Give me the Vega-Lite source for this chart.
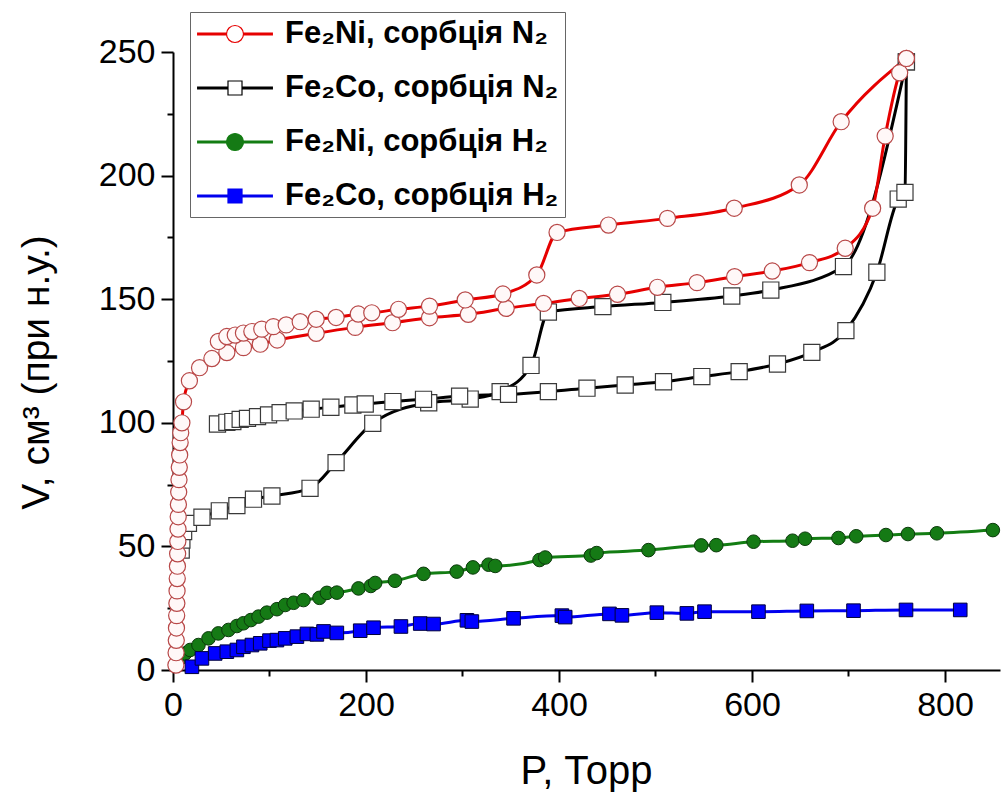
{
  "$schema": "https://vega.github.io/schema/vega-lite/v6.json",
  "width": 827,
  "height": 618,
  "autosize": {"type": "none"},
  "padding": {"left": 173, "top": 52, "right": 2, "bottom": 132},
  "background": "white",
  "config": {"view": {"stroke": null}},
  "data": {"values": [
    {"s":"Fe₂Ni, сорбція H₂","b":"a","P":2.3,"V":2},{"s":"Fe₂Ni, сорбція H₂","b":"a","P":7.5,"V":4.7},{"s":"Fe₂Ni, сорбція H₂","b":"a","P":12.6,"V":6.7},{"s":"Fe₂Ni, сорбція H₂","b":"a","P":17.8,"V":8.1},{"s":"Fe₂Ni, сорбція H₂","b":"a","P":26.4,"V":10.1},{"s":"Fe₂Ni, сорбція H₂","b":"a","P":36.8,"V":12.8},{"s":"Fe₂Ni, сорбція H₂","b":"a","P":47,"V":14.8},{"s":"Fe₂Ni, сорбція H₂","b":"a","P":57.5,"V":16.2},{"s":"Fe₂Ni, сорбція H₂","b":"a","P":66.2,"V":17.8},{"s":"Fe₂Ni, сорбція H₂","b":"a","P":73,"V":18.9},{"s":"Fe₂Ni, сорбція H₂","b":"a","P":80.7,"V":20.2},{"s":"Fe₂Ni, сорбція H₂","b":"a","P":88.6,"V":21.6},{"s":"Fe₂Ni, сорбція H₂","b":"a","P":97.3,"V":23.2},{"s":"Fe₂Ni, сорбція H₂","b":"a","P":107.7,"V":24.6},{"s":"Fe₂Ni, сорбція H₂","b":"a","P":116.3,"V":26.3},{"s":"Fe₂Ni, сорбція H₂","b":"a","P":125,"V":27.2},{"s":"Fe₂Ni, сорбція H₂","b":"a","P":135.2,"V":28.3},{"s":"Fe₂Ni, сорбція H₂","b":"a","P":151.8,"V":29.2},{"s":"Fe₂Ni, сорбція H₂","b":"a","P":159.5,"V":31.2},{"s":"Fe₂Ni, сорбція H₂","b":"a","P":169.8,"V":31.3},{"s":"Fe₂Ni, сорбція H₂","b":"a","P":192.2,"V":33},{"s":"Fe₂Ni, сорбція H₂","b":"a","P":205,"V":34},{"s":"Fe₂Ni, сорбція H₂","b":"a","P":209.5,"V":35.2},{"s":"Fe₂Ni, сорбція H₂","b":"a","P":230,"V":36.1},{"s":"Fe₂Ni, сорбція H₂","b":"a","P":259.6,"V":38.9},{"s":"Fe₂Ni, сорбція H₂","b":"a","P":294,"V":39.8},{"s":"Fe₂Ni, сорбція H₂","b":"a","P":310.8,"V":41.5},{"s":"Fe₂Ni, сорбція H₂","b":"a","P":327,"V":42.6},{"s":"Fe₂Ni, сорбція H₂","b":"a","P":333.9,"V":42.1},{"s":"Fe₂Ni, сорбція H₂","b":"a","P":379.8,"V":44.5},{"s":"Fe₂Ni, сорбція H₂","b":"a","P":385.7,"V":45.5},{"s":"Fe₂Ni, сорбція H₂","b":"a","P":433,"V":46.3},{"s":"Fe₂Ni, сорбція H₂","b":"a","P":439,"V":47.3},{"s":"Fe₂Ni, сорбція H₂","b":"a","P":492.7,"V":48.5},{"s":"Fe₂Ni, сорбція H₂","b":"a","P":547.4,"V":50.4},{"s":"Fe₂Ni, сорбція H₂","b":"a","P":563,"V":50.5},{"s":"Fe₂Ni, сорбція H₂","b":"a","P":601.6,"V":51.9},{"s":"Fe₂Ni, сорбція H₂","b":"a","P":642,"V":52.3},{"s":"Fe₂Ni, сорбція H₂","b":"a","P":655,"V":53.1},{"s":"Fe₂Ni, сорбція H₂","b":"a","P":689.6,"V":53.4},{"s":"Fe₂Ni, сорбція H₂","b":"a","P":708,"V":54.1},{"s":"Fe₂Ni, сорбція H₂","b":"a","P":738.8,"V":54.6},{"s":"Fe₂Ni, сорбція H₂","b":"a","P":761.6,"V":55},{"s":"Fe₂Ni, сорбція H₂","b":"a","P":791.6,"V":55.3},{"s":"Fe₂Ni, сорбція H₂","b":"a","P":849.6,"V":56.6},
    {"s":"Fe₂Co, сорбція H₂","b":"a","P":19.6,"V":1.3},{"s":"Fe₂Co, сорбція H₂","b":"a","P":30,"V":4.7},{"s":"Fe₂Co, сорбція H₂","b":"a","P":43.7,"V":6.7},{"s":"Fe₂Co, сорбція H₂","b":"a","P":55.8,"V":7.4},{"s":"Fe₂Co, сорбція H₂","b":"a","P":66.2,"V":8.1},{"s":"Fe₂Co, сорбція H₂","b":"a","P":73,"V":9.4},{"s":"Fe₂Co, сорбція H₂","b":"a","P":81.8,"V":10.1},{"s":"Fe₂Co, сорбція H₂","b":"a","P":90.4,"V":10.8},{"s":"Fe₂Co, сорбція H₂","b":"a","P":100,"V":11.9},{"s":"Fe₂Co, сорбція H₂","b":"a","P":107.7,"V":12.1},{"s":"Fe₂Co, сорбція H₂","b":"a","P":116.3,"V":12.8},{"s":"Fe₂Co, сорбція H₂","b":"a","P":128.4,"V":13.5},{"s":"Fe₂Co, сорбція H₂","b":"a","P":138.8,"V":14.6},{"s":"Fe₂Co, сорбція H₂","b":"a","P":149.1,"V":14.4},{"s":"Fe₂Co, сорбція H₂","b":"a","P":156,"V":15.6},{"s":"Fe₂Co, сорбція H₂","b":"a","P":169.8,"V":15},{"s":"Fe₂Co, сорбція H₂","b":"a","P":194,"V":15.9},{"s":"Fe₂Co, сорбція H₂","b":"a","P":207.8,"V":17.1},{"s":"Fe₂Co, сорбція H₂","b":"a","P":236.2,"V":17.6},{"s":"Fe₂Co, сорбція H₂","b":"a","P":256.2,"V":18.8},{"s":"Fe₂Co, сорбція H₂","b":"a","P":270,"V":18.6},{"s":"Fe₂Co, сорбція H₂","b":"a","P":304.6,"V":20.1},{"s":"Fe₂Co, сорбція H₂","b":"a","P":309.7,"V":19.6},{"s":"Fe₂Co, сорбція H₂","b":"a","P":352.9,"V":20.9},{"s":"Fe₂Co, сорбція H₂","b":"a","P":403,"V":22},{"s":"Fe₂Co, сорбція H₂","b":"a","P":406.4,"V":21.4},{"s":"Fe₂Co, сорбція H₂","b":"a","P":452.3,"V":22.7},{"s":"Fe₂Co, сорбція H₂","b":"a","P":465.2,"V":22.1},{"s":"Fe₂Co, сорбція H₂","b":"a","P":501.4,"V":23.2},{"s":"Fe₂Co, сорбція H₂","b":"a","P":532.5,"V":22.9},{"s":"Fe₂Co, сорбція H₂","b":"a","P":550.8,"V":23.6},{"s":"Fe₂Co, сорбція H₂","b":"a","P":606.7,"V":23.6},{"s":"Fe₂Co, сорбція H₂","b":"a","P":656.8,"V":23.9},{"s":"Fe₂Co, сорбція H₂","b":"a","P":705.2,"V":24},{"s":"Fe₂Co, сорбція H₂","b":"a","P":759.6,"V":24.3},{"s":"Fe₂Co, сорбція H₂","b":"a","P":815.8,"V":24.3},
    {"s":"Fe₂Co, сорбція N₂","b":"a","P":8.5,"V":48.5},{"s":"Fe₂Co, сорбція N₂","b":"a","P":9.2,"V":52.6},{"s":"Fe₂Co, сорбція N₂","b":"a","P":11,"V":56},{"s":"Fe₂Co, сорбція N₂","b":"a","P":16,"V":59.3},{"s":"Fe₂Co, сорбція N₂","b":"a","P":30,"V":61.8},{"s":"Fe₂Co, сорбція N₂","b":"a","P":48,"V":64.4},{"s":"Fe₂Co, сорбція N₂","b":"a","P":66.2,"V":66.5},{"s":"Fe₂Co, сорбція N₂","b":"a","P":83.4,"V":69.1},{"s":"Fe₂Co, сорбція N₂","b":"a","P":102.5,"V":70.4},{"s":"Fe₂Co, сорбція N₂","b":"a","P":142,"V":73.5},{"s":"Fe₂Co, сорбція N₂","b":"a","P":169,"V":83.9},{"s":"Fe₂Co, сорбція N₂","b":"a","P":207,"V":99.8},{"s":"Fe₂Co, сорбція N₂","b":"a","P":265,"V":108.1},{"s":"Fe₂Co, сорбція N₂","b":"a","P":308,"V":109.6},{"s":"Fe₂Co, сорбція N₂","b":"a","P":339,"V":112.6},{"s":"Fe₂Co, сорбція N₂","b":"a","P":371,"V":123.2},{"s":"Fe₂Co, сорбція N₂","b":"a","P":389,"V":144.8},{"s":"Fe₂Co, сорбція N₂","b":"a","P":445.5,"V":147},{"s":"Fe₂Co, сорбція N₂","b":"a","P":507.6,"V":148.7},{"s":"Fe₂Co, сорбція N₂","b":"a","P":579,"V":151.3},{"s":"Fe₂Co, сорбція N₂","b":"a","P":619.5,"V":153.7},{"s":"Fe₂Co, сорбція N₂","b":"a","P":694.8,"V":163.2},{"s":"Fe₂Co, сорбція N₂","b":"a","P":760,"V":246},
    {"s":"Fe₂Co, сорбція N₂","b":"d","P":46.1,"V":99.5},{"s":"Fe₂Co, сорбція N₂","b":"d","P":55.8,"V":100.2},{"s":"Fe₂Co, сорбція N₂","b":"d","P":62,"V":100.5},{"s":"Fe₂Co, сорбція N₂","b":"d","P":69.6,"V":101.4},{"s":"Fe₂Co, сорбція N₂","b":"d","P":77.2,"V":101.8},{"s":"Fe₂Co, сорбція N₂","b":"d","P":87.6,"V":102.5},{"s":"Fe₂Co, сорбція N₂","b":"d","P":99,"V":103.2},{"s":"Fe₂Co, сорбція N₂","b":"d","P":111,"V":104.1},{"s":"Fe₂Co, сорбція N₂","b":"d","P":125.6,"V":104.8},{"s":"Fe₂Co, сорбція N₂","b":"d","P":143.2,"V":105.5},{"s":"Fe₂Co, сорбція N₂","b":"d","P":163.6,"V":106.3},{"s":"Fe₂Co, сорбція N₂","b":"d","P":186.4,"V":107.2},{"s":"Fe₂Co, сорбція N₂","b":"d","P":199.2,"V":107.6},{"s":"Fe₂Co, сорбція N₂","b":"d","P":227.9,"V":108.6},{"s":"Fe₂Co, сорбція N₂","b":"d","P":259.6,"V":109.5},{"s":"Fe₂Co, сорбція N₂","b":"d","P":297,"V":110.8},{"s":"Fe₂Co, сорбція N₂","b":"d","P":347.7,"V":111.5},{"s":"Fe₂Co, сорбція N₂","b":"d","P":389,"V":112.6},{"s":"Fe₂Co, сорбція N₂","b":"d","P":429,"V":114},{"s":"Fe₂Co, сорбція N₂","b":"d","P":468.6,"V":115.3},{"s":"Fe₂Co, сорбція N₂","b":"d","P":508.3,"V":116.6},{"s":"Fe₂Co, сорбція N₂","b":"d","P":548,"V":118.7},{"s":"Fe₂Co, сорбція N₂","b":"d","P":586.7,"V":120.7},{"s":"Fe₂Co, сорбція N₂","b":"d","P":626.4,"V":123.8},{"s":"Fe₂Co, сорбція N₂","b":"d","P":662,"V":128.5},{"s":"Fe₂Co, сорбція N₂","b":"d","P":697.3,"V":137.3},{"s":"Fe₂Co, сорбція N₂","b":"d","P":729.4,"V":160.9},{"s":"Fe₂Co, сорбція N₂","b":"d","P":751.5,"V":190.5},{"s":"Fe₂Co, сорбція N₂","b":"d","P":758.5,"V":193.2},{"s":"Fe₂Co, сорбція N₂","b":"d","P":760,"V":246},
    {"s":"Fe₂Ni, сорбція N₂","b":"a","P":3.0,"V":2},{"s":"Fe₂Ni, сорбція N₂","b":"a","P":3.2,"V":7},{"s":"Fe₂Ni, сорбція N₂","b":"a","P":3.4,"V":12},{"s":"Fe₂Ni, сорбція N₂","b":"a","P":3.6,"V":17},{"s":"Fe₂Ni, сорбція N₂","b":"a","P":3.8,"V":22},{"s":"Fe₂Ni, сорбція N₂","b":"a","P":4.0,"V":27},{"s":"Fe₂Ni, сорбція N₂","b":"a","P":4.2,"V":32},{"s":"Fe₂Ni, сорбція N₂","b":"a","P":4.4,"V":37},{"s":"Fe₂Ni, сорбція N₂","b":"a","P":4.6,"V":42},{"s":"Fe₂Ni, сорбція N₂","b":"a","P":4.8,"V":47},{"s":"Fe₂Ni, сорбція N₂","b":"a","P":5.0,"V":52},{"s":"Fe₂Ni, сорбція N₂","b":"a","P":5.2,"V":57},{"s":"Fe₂Ni, сорбція N₂","b":"a","P":5.4,"V":62},{"s":"Fe₂Ni, сорбція N₂","b":"a","P":5.6,"V":67},{"s":"Fe₂Ni, сорбція N₂","b":"a","P":5.9,"V":72},{"s":"Fe₂Ni, сорбція N₂","b":"a","P":6.2,"V":77},{"s":"Fe₂Ni, сорбція N₂","b":"a","P":6.5,"V":82},{"s":"Fe₂Ni, сорбція N₂","b":"a","P":6.9,"V":87},{"s":"Fe₂Ni, сорбція N₂","b":"a","P":7.4,"V":92},{"s":"Fe₂Ni, сорбція N₂","b":"a","P":8.0,"V":96},{"s":"Fe₂Ni, сорбція N₂","b":"a","P":9.2,"V":100},{"s":"Fe₂Ni, сорбція N₂","b":"a","P":10.9,"V":108.5},{"s":"Fe₂Ni, сорбція N₂","b":"a","P":17,"V":117},{"s":"Fe₂Ni, сорбція N₂","b":"a","P":27.5,"V":122.3},{"s":"Fe₂Ni, сорбція N₂","b":"a","P":40.3,"V":126},{"s":"Fe₂Ni, сорбція N₂","b":"a","P":55.8,"V":128.4},{"s":"Fe₂Ni, сорбція N₂","b":"a","P":73,"V":130.4},{"s":"Fe₂Ni, сорбція N₂","b":"a","P":90.4,"V":131.8},{"s":"Fe₂Ni, сорбція N₂","b":"a","P":108,"V":133.5},{"s":"Fe₂Ni, сорбція N₂","b":"a","P":148.4,"V":136.2},{"s":"Fe₂Ni, сорбція N₂","b":"a","P":188.8,"V":138.6},{"s":"Fe₂Ni, сорбція N₂","b":"a","P":227.5,"V":140.5},{"s":"Fe₂Ni, сорбція N₂","b":"a","P":265.8,"V":142.5},{"s":"Fe₂Ni, сорбція N₂","b":"a","P":306,"V":143.9},{"s":"Fe₂Ni, сорбція N₂","b":"a","P":345.3,"V":146.3},{"s":"Fe₂Ni, сорбція N₂","b":"a","P":384,"V":148.3},{"s":"Fe₂Ni, сорбція N₂","b":"a","P":421,"V":150.3},{"s":"Fe₂Ni, сорбція N₂","b":"a","P":460.6,"V":152},{"s":"Fe₂Ni, сорбція N₂","b":"a","P":502,"V":154.8},{"s":"Fe₂Ni, сорбція N₂","b":"a","P":543,"V":156.7},{"s":"Fe₂Ni, сорбція N₂","b":"a","P":582,"V":159.1},{"s":"Fe₂Ni, сорбція N₂","b":"a","P":621,"V":161.4},{"s":"Fe₂Ni, сорбція N₂","b":"a","P":659.6,"V":164.8},{"s":"Fe₂Ni, сорбція N₂","b":"a","P":696.6,"V":170.6},{"s":"Fe₂Ni, сорбція N₂","b":"a","P":725,"V":186.8},{"s":"Fe₂Ni, сорбція N₂","b":"a","P":738,"V":216},{"s":"Fe₂Ni, сорбція N₂","b":"a","P":753,"V":241.6},{"s":"Fe₂Ni, сорбція N₂","b":"a","P":760,"V":247.4},
    {"s":"Fe₂Ni, сорбція N₂","b":"d","P":47,"V":132.9},{"s":"Fe₂Ni, сорбція N₂","b":"d","P":55.8,"V":134.9},{"s":"Fe₂Ni, сорбція N₂","b":"d","P":64.5,"V":135.5},{"s":"Fe₂Ni, сорбція N₂","b":"d","P":73,"V":136.3},{"s":"Fe₂Ni, сорбція N₂","b":"d","P":81.7,"V":136.9},{"s":"Fe₂Ni, сорбція N₂","b":"d","P":92,"V":137.9},{"s":"Fe₂Ni, сорбція N₂","b":"d","P":104,"V":138.9},{"s":"Fe₂Ni, сорбція N₂","b":"d","P":117.3,"V":139.6},{"s":"Fe₂Ni, сорбція N₂","b":"d","P":131.8,"V":140.9},{"s":"Fe₂Ni, сорбція N₂","b":"d","P":148.4,"V":141.9},{"s":"Fe₂Ni, сорбція N₂","b":"d","P":169,"V":142.6},{"s":"Fe₂Ni, сорбція N₂","b":"d","P":192,"V":144},{"s":"Fe₂Ni, сорбція N₂","b":"d","P":206,"V":144.5},{"s":"Fe₂Ni, сорбція N₂","b":"d","P":233.7,"V":145.9},{"s":"Fe₂Ni, сорбція N₂","b":"d","P":265.8,"V":147.2},{"s":"Fe₂Ni, сорбція N₂","b":"d","P":302.8,"V":149.7},{"s":"Fe₂Ni, сорбція N₂","b":"d","P":341.8,"V":152.1},{"s":"Fe₂Ni, сорбція N₂","b":"d","P":377,"V":159.8},{"s":"Fe₂Ni, сорбція N₂","b":"d","P":398,"V":177},{"s":"Fe₂Ni, сорбція N₂","b":"d","P":451.3,"V":180},{"s":"Fe₂Ni, сорбція N₂","b":"d","P":512.4,"V":182.7},{"s":"Fe₂Ni, сорбція N₂","b":"d","P":581.6,"V":186.8},{"s":"Fe₂Ni, сорбція N₂","b":"d","P":649,"V":196.2},{"s":"Fe₂Ni, сорбція N₂","b":"d","P":692.4,"V":221.8},{"s":"Fe₂Ni, сорбція N₂","b":"d","P":760,"V":247.4}
  ]},
  "encoding": {
    "x": {"field": "P", "type": "quantitative",
      "scale": {"domain": [0, 857], "nice": false, "zero": false},
      "axis": {
        "values": [0, 100, 200, 300, 400, 500, 600, 700, 800],
        "labelExpr": "datum.value % 200 === 0 ? datum.label : ''",
        "tickSize": {"condition": {"test": "datum.value % 200 === 0", "value": 12}, "value": 6},
        "grid": false, "domainColor": "black", "domainWidth": 2, "tickColor": "black", "tickWidth": 2,
        "labelFont": "Liberation Sans", "labelFontSize": 34, "labelColor": "black", "labelPadding": 6,
        "labelFlush": false, "labelOverlap": false,
        "title": "P, Торр", "titleFont": "Liberation Sans", "titleFontSize": 40, "titleFontWeight": "normal", "titleColor": "black",
        "titleX": 413, "titleY": 113, "titleBaseline": "alphabetic", "titleAlign": "center"
      }},
    "y": {"field": "V", "type": "quantitative",
      "scale": {"domain": [0, 250], "nice": false, "zero": false},
      "axis": {
        "values": [0, 25, 50, 75, 100, 125, 150, 175, 200, 225, 250],
        "labelExpr": "datum.value % 50 === 0 ? datum.label : ''",
        "tickSize": {"condition": {"test": "datum.value % 50 === 0", "value": 12}, "value": 6},
        "grid": false, "domainColor": "black", "domainWidth": 2, "tickColor": "black", "tickWidth": 2,
        "labelFont": "Liberation Sans", "labelFontSize": 34, "labelColor": "black", "labelPadding": 6,
        "labelFlush": false, "labelOverlap": false,
        "title": "V, см³ (при н.у.)", "titleFont": "Liberation Sans", "titleFontSize": 39, "titleFontWeight": "normal", "titleColor": "black",
        "titleX": -137, "titleY": 320, "titleBaseline": "middle", "titleAlign": "center", "titleAngle": 270
      }}
  },
  "resolve": {"scale": {"shape": "independent", "fill": "independent", "stroke": "independent"}},
  "layer": [
    {
      "mark": {"type": "line", "interpolate": "monotone", "strokeWidth": 3},
      "encoding": {
        "color": {"field": "s", "type": "nominal", "legend": null,
          "scale": {"domain": ["Fe₂Ni, сорбція N₂", "Fe₂Co, сорбція N₂", "Fe₂Ni, сорбція H₂", "Fe₂Co, сорбція H₂"],
                    "range": ["#e60000", "#000000", "#137d13", "#0000ee"]}},
        "detail": {"field": "b", "type": "nominal"},
        "order": {"field": "P", "type": "quantitative"}
      }
    },
    {
      "transform": [{"filter": {"field": "s", "oneOf": ["Fe₂Ni, сорбція H₂", "Fe₂Co, сорбція H₂"]}}],
      "mark": {"type": "point", "filled": true, "strokeWidth": 1, "opacity": 1, "size": 185},
      "encoding": {
        "shape": {"field": "s", "type": "nominal", "legend": null,
          "scale": {"domain": ["Fe₂Ni, сорбція N₂", "Fe₂Co, сорбція N₂", "Fe₂Ni, сорбція H₂", "Fe₂Co, сорбція H₂"], "range": ["circle", "square", "circle", "square"]}},
        "fill": {"field": "s", "type": "nominal", "legend": null,
          "scale": {"domain": ["Fe₂Ni, сорбція N₂", "Fe₂Co, сорбція N₂", "Fe₂Ni, сорбція H₂", "Fe₂Co, сорбція H₂"], "range": ["#fff8f8", "#ffffff", "#157a15", "#0000ff"]}},
        "stroke": {"field": "s", "type": "nominal", "legend": null,
          "scale": {"domain": ["Fe₂Ni, сорбція N₂", "Fe₂Co, сорбція N₂", "Fe₂Ni, сорбція H₂", "Fe₂Co, сорбція H₂"], "range": ["#b84848", "#3a3a3a", "#0b3a0b", "#00003c"]}}
      }
    },
    {
      "transform": [{"filter": {"field": "s", "oneOf": ["Fe₂Ni, сорбція N₂", "Fe₂Co, сорбція N₂"]}}],
      "mark": {"type": "point", "filled": true, "strokeWidth": 1.2, "opacity": 1, "size": 260},
      "encoding": {
        "shape": {"field": "s", "type": "nominal", "legend": null,
          "scale": {"domain": ["Fe₂Ni, сорбція N₂", "Fe₂Co, сорбція N₂", "Fe₂Ni, сорбція H₂", "Fe₂Co, сорбція H₂"], "range": ["circle", "square", "circle", "square"]}},
        "fill": {"field": "s", "type": "nominal", "legend": null,
          "scale": {"domain": ["Fe₂Ni, сорбція N₂", "Fe₂Co, сорбція N₂", "Fe₂Ni, сорбція H₂", "Fe₂Co, сорбція H₂"], "range": ["#fff8f8", "#ffffff", "#157a15", "#0000ff"]}},
        "stroke": {"field": "s", "type": "nominal", "legend": null,
          "scale": {"domain": ["Fe₂Ni, сорбція N₂", "Fe₂Co, сорбція N₂", "Fe₂Ni, сорбція H₂", "Fe₂Co, сорбція H₂"], "range": ["#b84848", "#3a3a3a", "#0b3a0b", "#00003c"]}}
      }
    },
    {
      "transform": [{"filter": {"field": "s", "equal": "none"}}],
      "mark": {"type": "point", "filled": true, "strokeWidth": 1.2, "opacity": 1, "size": 900},
      "encoding": {
        "shape": {"field": "s", "type": "nominal",
          "scale": {"domain": ["Fe₂Ni, сорбція N₂", "Fe₂Co, сорбція N₂", "Fe₂Ni, сорбція H₂", "Fe₂Co, сорбція H₂"],
                    "range": [
                      "M-2.53,-0.067H-0.567M-2.53,0H-0.567M-2.53,0.067H-0.567M0.567,-0.067H2.53M0.567,0H2.53M0.567,0.067H2.53M-0.567,0A0.567,0.567 0 1,0 0.567,0A0.567,0.567 0 1,0 -0.567,0Z",
                      "M-2.53,-0.067H-0.467M-2.53,0H-0.467M-2.53,0.067H-0.467M0.467,-0.067H2.53M0.467,0H2.53M0.467,0.067H2.53M-0.467,-0.467H0.467V0.467H-0.467Z",
                      "M-2.53,-0.067H-0.567M-2.53,0H-0.567M-2.53,0.067H-0.567M0.567,-0.067H2.53M0.567,0H2.53M0.567,0.067H2.53M-0.567,0A0.567,0.567 0 1,0 0.567,0A0.567,0.567 0 1,0 -0.567,0Z",
                      "M-2.53,-0.067H-0.467M-2.53,0H-0.467M-2.53,0.067H-0.467M0.467,-0.067H2.53M0.467,0H2.53M0.467,0.067H2.53M-0.467,-0.467H0.467V0.467H-0.467Z"]},
          "legend": {"orient": "none", "legendX": 17, "legendY": -40, "title": null,
            "strokeColor": "#666666", "fillColor": "white", "padding": 6,
            "labelFont": "Liberation Sans", "labelFontWeight": "bold", "labelFontSize": 31, "labelColor": "black", "labelLimit": 500,
            "labelOffset": 34, "symbolOffset": 23, "symbolSize": 900, "symbolStrokeWidth": 1.2, "rowPadding": 23}},
        "fill": {"field": "s", "type": "nominal",
          "scale": {"domain": ["Fe₂Ni, сорбція N₂", "Fe₂Co, сорбція N₂", "Fe₂Ni, сорбція H₂", "Fe₂Co, сорбція H₂"], "range": ["#ffffff", "#ffffff", "#157a15", "#0000ff"]},
          "legend": {"orient": "none", "legendX": 17, "legendY": -40, "title": null,
            "strokeColor": "#666666", "fillColor": "white", "padding": 6,
            "labelFont": "Liberation Sans", "labelFontWeight": "bold", "labelFontSize": 31, "labelColor": "black", "labelLimit": 500,
            "labelOffset": 34, "symbolOffset": 23, "symbolSize": 900, "symbolStrokeWidth": 1.2, "rowPadding": 23}},
        "stroke": {"field": "s", "type": "nominal",
          "scale": {"domain": ["Fe₂Ni, сорбція N₂", "Fe₂Co, сорбція N₂", "Fe₂Ni, сорбція H₂", "Fe₂Co, сорбція H₂"], "range": ["#e60000", "#000000", "#137d13", "#0000ee"]},
          "legend": {"orient": "none", "legendX": 17, "legendY": -40, "title": null,
            "strokeColor": "#666666", "fillColor": "white", "padding": 6,
            "labelFont": "Liberation Sans", "labelFontWeight": "bold", "labelFontSize": 31, "labelColor": "black", "labelLimit": 500,
            "labelOffset": 34, "symbolOffset": 23, "symbolSize": 900, "symbolStrokeWidth": 1.2, "rowPadding": 23}}
      }
    }
  ]
}
